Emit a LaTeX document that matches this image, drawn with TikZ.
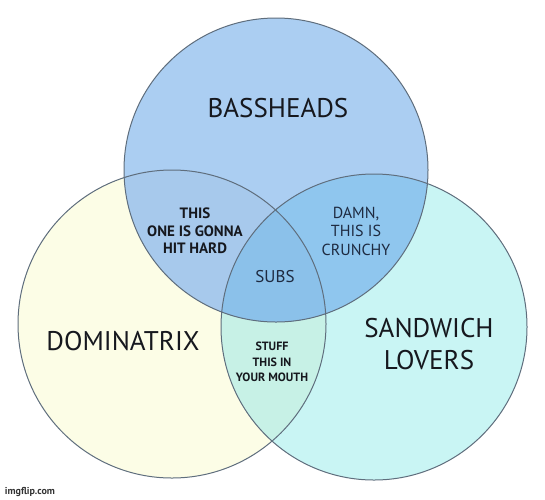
\documentclass[tikz,border=0pt]{standalone}
\usepackage{fontspec}
\setmainfont{PT Sans}
\definecolor{bassblue}{RGB}{171,206,242}
\definecolor{domyellow}{RGB}{252,253,230}
\definecolor{sandcyan}{RGB}{201,245,244}
\definecolor{mintmix}{RGB}{199,241,230}
\definecolor{bluegray}{RGB}{167,201,236}
\definecolor{bluedeep}{RGB}{143,198,238}
\definecolor{bluecore}{RGB}{139,193,234}
\definecolor{ringgray}{RGB}{95,110,125}
\definecolor{inkdark}{RGB}{22,24,30}
\definecolor{inknavy}{RGB}{30,42,64}

\begin{document}
\begin{tikzpicture}[x=1pt, y=-1pt,
        ring/.style={draw=ringgray, line width=1pt},
        setname/.style={inner sep=0pt, align=center, text=inkdark, font=\fontsize{27}{32}\selectfont},
        mixbold/.style={inner sep=0pt, align=center, text=inkdark, font=\bfseries\fontsize{15}{17.5}\selectfont},
        mixplain/.style={inner sep=0pt, align=center, text=inknavy, font=\fontsize{16}{18.5}\selectfont},
        mixsmall/.style={inner sep=0pt, align=center, text=inkdark, font=\bfseries\fontsize{12}{15.5}\selectfont},
    ]
        \useasboundingbox (0,0) rectangle (545,499);
        \fill[white] (0,0) rectangle (545,499);

        % Circle centres
        \coordinate (bass) at (276,170);
        \coordinate (domi) at (172,324);
        \coordinate (sand) at (374,327);

        % Single sets
        \fill[domyellow] (domi) circle (154pt);
        \fill[sandcyan] (sand) circle (153pt);
        \fill[bassblue] (bass) circle (152pt);

        % Overlaps
        \begin{scope}
            \clip (domi) circle (154pt);
            \fill[mintmix] (sand) circle (153pt);
            \fill[bluegray] (bass) circle (152pt);
        \end{scope}
        \begin{scope}
            \clip (sand) circle (153pt);
            \fill[bluedeep] (bass) circle (152pt);
            \clip (domi) circle (154pt);
            \fill[bluecore] (bass) circle (152pt);
        \end{scope}

        % Outlines
        \draw[ring] (domi) circle (154pt);
        \draw[ring] (sand) circle (153pt);
        \draw[ring] (bass) circle (152pt);

        % Set labels
        \node[setname] (bassheads) at (278,108) {BASSHEADS};
        \node[setname] (dominatrix) at (123,341) {DOMINATRIX};
        \node[setname] (sandwich) at (429,344) {SANDWICH\\LOVERS};

        % Overlap labels
        \node[mixbold] (hithard) at (195,231) {THIS\\ONE IS GONNA\\HIT HARD};
        \node[mixplain] (crunchy) at (356,231) {DAMN,\\THIS IS\\CRUNCHY};
        \node[mixsmall] (mouth) at (272,362) {STUFF\\THIS IN\\YOUR MOUTH};
        \node[inner sep=0pt, text=inknavy, font=\fontsize{17}{20}\selectfont] (subs) at (275,277) {SUBS};

        % Watermark
        \node[inner sep=0pt, text=black!80, font=\bfseries\fontsize{10}{11}\selectfont] (imgflip) at (30,492) {imgflip.com};
    \end{tikzpicture}
\end{document}
